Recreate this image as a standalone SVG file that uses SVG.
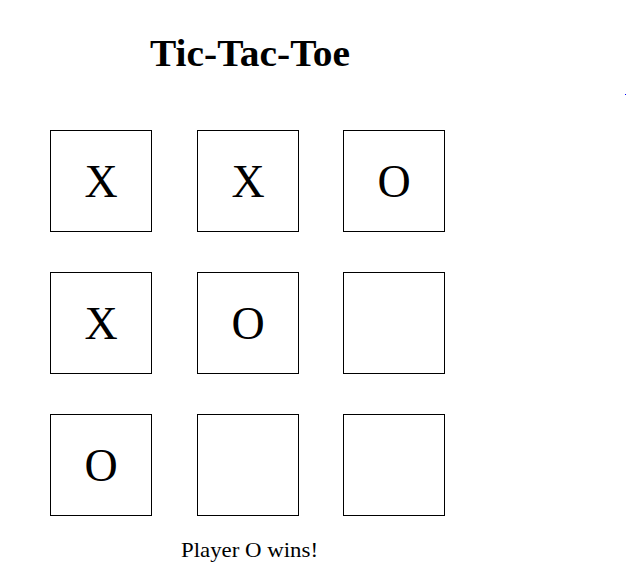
<svg xmlns="http://www.w3.org/2000/svg" width="626" height="582" viewBox="0 0 626 582">
<style>
.cell{fill:#fff;stroke:#000;stroke-width:1}
.mark{font-family:"Liberation Serif","Times New Roman",serif;font-size:46px;text-anchor:middle;fill:#000}
.title{font-family:"Liberation Serif","Times New Roman",serif;font-size:38px;font-weight:bold;text-anchor:middle;fill:#000}
.status{font-family:"Liberation Serif","Times New Roman",serif;font-size:22px;text-anchor:middle;fill:#000}
</style>
<rect width="626" height="582" fill="#fff"/>
<rect x="625" y="94" width="1" height="1" fill="#0000ff"/>
<text class="title" x="250" y="66" textLength="200" lengthAdjust="spacingAndGlyphs">Tic-Tac-Toe</text>
<g id="c00"><rect class="cell" x="50.5" y="130.5" width="101" height="101"/><text class="mark" x="101" y="197">X</text></g>
<g id="c01"><rect class="cell" x="197.5" y="130.5" width="101" height="101"/><text class="mark" x="248" y="197">X</text></g>
<g id="c02"><rect class="cell" x="343.5" y="130.5" width="101" height="101"/><text class="mark" x="394" y="197">O</text></g>
<g id="c10"><rect class="cell" x="50.5" y="272.5" width="101" height="101"/><text class="mark" x="101" y="339">X</text></g>
<g id="c11"><rect class="cell" x="197.5" y="272.5" width="101" height="101"/><text class="mark" x="248" y="339">O</text></g>
<g id="c12"><rect class="cell" x="343.5" y="272.5" width="101" height="101"/></g>
<g id="c20"><rect class="cell" x="50.5" y="414.5" width="101" height="101"/><text class="mark" x="101" y="481">O</text></g>
<g id="c21"><rect class="cell" x="197.5" y="414.5" width="101" height="101"/></g>
<g id="c22"><rect class="cell" x="343.5" y="414.5" width="101" height="101"/></g>
<g id="connectors"/>
<text class="status" x="249.5" y="557" textLength="137" lengthAdjust="spacingAndGlyphs">Player O wins!</text>
</svg>
